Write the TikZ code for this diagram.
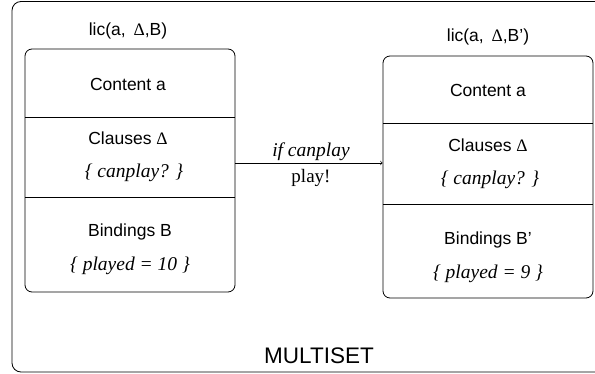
\documentclass[tikz,border=0pt]{standalone}
\usepackage{fontspec}
\setmainfont{Liberation Serif}
\setsansfont{Liberation Sans}
\newcommand{\dlt}{{\rmfamily\upshape Δ}}
\begin{document}
\begin{tikzpicture}[x=1pt,y=-1pt,line width=0.8pt,
  lbl/.style={font=\sffamily\fontsize{17.5}{20}\selectfont,inner sep=0pt},
  itl/.style={font=\itshape\fontsize{19.5}{20}\selectfont,inner sep=0pt},
  upr/.style={font=\fontsize{19}{20}\selectfont,inner sep=0pt},
  boxx/.style={draw,rounded corners=7pt,inner sep=0pt}]
\useasboundingbox (0,0) rectangle (595,374);
\clip (0,0) rectangle (595,374);
\draw[rounded corners=9pt] (12,1.5) rectangle (640,372);
\node[lbl] (ms) at (319,356) {\fontsize{22.5}{24}\selectfont MULTISET};
% left box
\node[boxx,minimum width=210pt,minimum height=243pt] (L) at (130,170.5) {};
\draw (25,117) -- (235,117);
\draw (25,197) -- (235,197);
\node[lbl] (lt) at (128,31) {lic(a,\, \dlt,B)};
\node[lbl] (l1) at (128,84) {Content a};
\node[lbl] (l2) at (128,138) {Clauses \dlt};
\node[itl] (l3) at (134,173) {\{ canplay? \}};
\node[lbl] (l4) at (130,232) {Bindings B};
\node[itl] (l5) at (130,266) {\{ played = 10 \}};
% right box
\node[boxx,minimum width=210pt,minimum height=242pt] (R) at (488,177) {};
\draw (383,123) -- (593,123);
\draw (383,204) -- (593,204);
\node[lbl] (rt) at (488,37) {lic(a,\, \dlt,B’)};
\node[lbl] (r1) at (488,90) {Content a};
\node[lbl] (r2) at (488,145) {Clauses \dlt};
\node[itl] (r3) at (490,180) {\{ canplay? \}};
\node[lbl] (r4) at (488,240) {Bindings B’};
\node[itl] (r5) at (488,274) {\{ played = 9 \}};
% arrow
\coordinate (a1) at (L.east |- 0,163);
\coordinate (a2) at (R.west |- 0,163);
\draw[->,line width=0.7pt] (a1) -- (a2);
\node[itl] (c1) at (311,152) {if canplay};
\node[upr] (c2) at (311,178) {play!};
\end{tikzpicture}
\end{document}
